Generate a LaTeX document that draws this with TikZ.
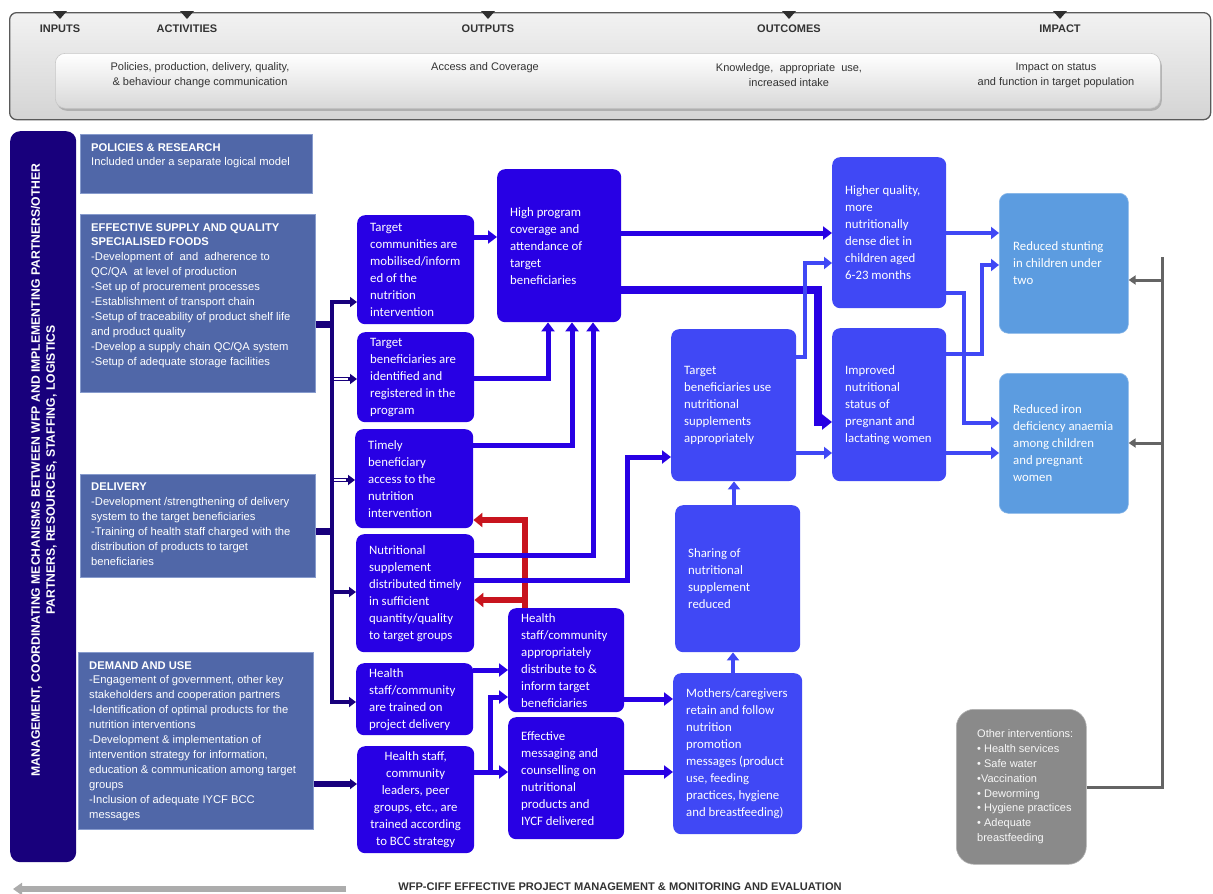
\documentclass[tikz,border=0pt]{standalone}
\usepackage{fontspec}
\setmainfont{Liberation Sans}
\newfontfamily\calibfont{Carlito}
\usetikzlibrary{arrows.meta,shadows}
\definecolor{navy}{RGB}{24,0,124}
\definecolor{leftblue}{RGB}{80,103,168}
\definecolor{leftedge}{RGB}{135,155,205}
\definecolor{strong}{RGB}{40,0,228}
\definecolor{mid}{RGB}{64,72,245}
\definecolor{impact}{RGB}{92,156,224}
\definecolor{othergray}{RGB}{138,138,138}
\definecolor{linegray}{RGB}{100,100,100}
\definecolor{redarrow}{RGB}{200,20,30}
\definecolor{hdrtext}{RGB}{51,51,51}
\definecolor{hdrtop}{RGB}{242,242,242}
\definecolor{hdrbot}{RGB}{212,212,212}
\definecolor{hdrinbot}{RGB}{216,216,216}
\definecolor{hdredge}{RGB}{90,90,90}
\begin{document}
\begin{tikzpicture}[x=1pt,y=-1pt,
  lbox/.style={fill=leftblue, draw=leftedge, line width=0.6pt, anchor=north west, inner sep=0pt},
  ltext/.style={anchor=north west, align=left, text=white, inner sep=0pt, font=\fontsize{11.2}{14.9}\selectfont},
  sbox/.style={fill=strong, rounded corners=8pt, anchor=north west, inner sep=0pt},
  mbox/.style={fill=mid, rounded corners=8pt, anchor=north west, inner sep=0pt},
  ibox/.style={fill=impact, draw=impact!75!white, line width=0.6pt, rounded corners=9pt, anchor=north west, inner sep=0pt},
  btext/.style={anchor=west, align=left, text=white, inner sep=0pt, font=\calibfont\fontsize{12.8}{17}\selectfont},
  htitle/.style={text=hdrtext, inner sep=0pt, font=\bfseries\fontsize{11}{13}\selectfont},
  hsub/.style={text=hdrtext, inner sep=0pt, align=center, font=\fontsize{11}{15}\selectfont},
  htri/.style={fill=hdrtext!90!black},
  sarr/.style={draw=strong, line width=5pt, -{Triangle[length=9pt,width=13pt]}},
  sthick/.style={draw=strong, line width=8pt, -{Triangle[length=10pt,width=15pt]}},
  marr/.style={draw=mid, line width=4pt, -{Triangle[length=8pt,width=12pt]}},
  narr/.style={draw=navy, line width=4pt, -{Triangle[length=7pt,width=10pt]}},
  nstub/.style={draw=navy, line width=7pt},
  rarr/.style={draw=redarrow, line width=6pt, -{Triangle[length=9pt,width=14pt]}},
  garr/.style={draw=linegray, line width=3pt, -{Triangle[length=7pt,width=9pt]}},
]
\fill[white] (0,0) rectangle (1213,894);
\useasboundingbox (0,0) rectangle (1213,894);

% ---------- header ----------
\node[draw=hdredge, line width=1.3pt, rounded corners=7pt, top color=hdrtop, bottom color=hdrbot,
      minimum width=1201pt, minimum height=107pt, anchor=north west, inner sep=0pt] (hdr) at (9,12) {};
\node[rounded corners=10pt, top color=white, bottom color=hdrinbot, draw=gray!45, line width=0.6pt,
      drop shadow={opacity=0.45, shadow xshift=1.5pt, shadow yshift=-2.5pt},
      minimum width=1105pt, minimum height=55pt, anchor=north west, inner sep=0pt] (hdrin) at (55,53) {};
\foreach \xx in {60,187,488,789,1060}{
  \fill[htri] (\xx-7,11) -- (\xx+7,11) -- (\xx,19) -- cycle;
}
\node[htitle] (hinp) at (60,29) {INPUTS};
\node[htitle] (hact) at (187,29) {ACTIVITIES};
\node[htitle] (hout) at (488,29) {OUTPUTS};
\node[htitle] (hoc) at (789,29) {OUTCOMES};
\node[htitle] (himp) at (1060,29) {IMPACT};
\node[hsub] (s1) at (200,75.5) {Policies, production, delivery, quality,\\ \& behaviour change communication};
\node[hsub] (s2) at (485,68) {Access and Coverage};
\node[hsub] (s3) at (789,75.5) {Knowledge,\ \ appropriate\ \ use,\\increased intake};
\node[hsub] (s4) at (1056,75.5) {Impact on status\\and function in target population};

% ---------- management bar ----------
\node[fill=navy, rounded corners=10pt, minimum width=66pt, minimum height=731pt, anchor=north west, inner sep=0pt] (mgmt) at (10,131) {};
\node[rotate=90, align=center, text=white, inner sep=0pt, font=\bfseries\fontsize{12.2}{15}\selectfont] (mgmtt) at (44,470)
  {MANAGEMENT, COORDINATING MECHANISMS BETWEEN WFP AND IMPLEMENTING PARTNERS/OTHER\\PARTNERS, RESOURCES, STAFFING, LOGISTICS};

% ---------- input boxes ----------
\node[lbox, minimum width=232pt, minimum height=59pt] (pol) at (80,134) {};
\node[ltext] (polt) at ([shift={(11pt,-9pt)}]pol.north west)
  {\textbf{POLICIES \& RESEARCH}\\Included under a separate logical model};
\node[lbox, minimum width=235pt, minimum height=178pt] (sup) at (80,214) {};
\node[ltext] (supt) at ([shift={(11pt,-9pt)}]sup.north west)
  {\textbf{EFFECTIVE SUPPLY AND QUALITY}\\\textbf{SPECIALISED FOODS}\\-Development of\ \ and\ \ adherence to\\QC/QA\ \ at level of production\\-Set up of procurement processes\\-Establishment of transport chain\\-Setup of traceability of product shelf life\\and product quality\\-Develop a supply chain QC/QA system\\-Setup of adequate storage facilities};
\node[lbox, minimum width=235pt, minimum height=103pt] (del) at (80,474) {};
\node[ltext] (delt) at ([shift={(11pt,-9pt)}]del.north west)
  {\textbf{DELIVERY}\\-Development /strengthening of delivery\\system to the target beneficiaries\\-Training of health staff charged with the\\distribution of products to target\\beneficiaries};
\node[lbox, minimum width=235pt, minimum height=177pt] (dem) at (78,652) {};
\node[ltext] (demt) at ([shift={(11pt,-9pt)}]dem.north west)
  {\textbf{DEMAND AND USE}\\-Engagement of government, other key\\stakeholders and cooperation partners\\-Identification of optimal products for the\\nutrition interventions\\-Development \& implementation of\\intervention strategy for information,\\education \& communication among target\\groups\\-Inclusion of adequate IYCF BCC\\messages};

% ---------- activity / output boxes ----------
\node[sbox, minimum width=117pt, minimum height=109pt] (tc) at (357,215) {};
\node[btext] (tct) at ([xshift=13pt]tc.west) {Target\\communities are\\mobilised/inform\\ed of the\\nutrition\\intervention};
\node[sbox, minimum width=117pt, minimum height=90pt] (tbi) at (357,332) {};
\node[btext] (tbit) at ([xshift=13pt]tbi.west) {Target\\beneficiaries are\\identified and\\registered in the\\program};
\node[sbox, minimum width=118pt, minimum height=99pt] (tim) at (355,429) {};
\node[btext] (timt) at ([xshift=13pt]tim.west) {Timely\\beneficiary\\access to the\\nutrition\\intervention};
\node[sbox, minimum width=118pt, minimum height=118pt] (sup2) at (356,534) {};
\node[btext] (sup2t) at ([xshift=13pt]sup2.west) {Nutritional\\supplement\\distributed timely\\in sufficient\\quantity/quality\\to target groups};
\node[sbox, minimum width=117pt, minimum height=72pt] (hst) at (356,663) {};
\node[btext] (hstt) at ([xshift=13pt]hst.west) {Health\\staff/community\\are trained on\\project delivery};
\node[sbox, minimum width=117pt, minimum height=107pt] (bcc) at (357,746) {};
\node[btext, anchor=center, align=center] (bcct) at (bcc.center) {Health staff,\\community\\leaders, peer\\groups, etc., are\\trained according\\to BCC strategy};
\node[sbox, minimum width=124pt, minimum height=153pt] (hp) at (497,169) {};
\node[btext] (hpt) at ([xshift=13pt]hp.west) {High program\\coverage and\\attendance of\\target\\beneficiaries};
\node[sbox, minimum width=116pt, minimum height=104pt] (hsa) at (508,608) {};
\node[btext] (hsat) at ([xshift=13pt]hsa.west) {Health\\staff/community\\appropriately\\distribute to \&\\inform target\\beneficiaries};
\node[sbox, minimum width=116pt, minimum height=122pt] (em) at (508,717) {};
\node[btext] (emt) at ([xshift=13pt]em.west) {Effective\\messaging and\\counselling on\\nutritional\\products and\\IYCF delivered};

% ---------- outcome boxes ----------
\node[mbox, minimum width=125pt, minimum height=152pt] (tu) at (671,329) {};
\node[btext] (tut) at ([xshift=13pt]tu.west) {Target\\beneficiaries use\\nutritional\\supplements\\appropriately};
\node[mbox, minimum width=125pt, minimum height=147pt] (sh) at (675,505) {};
\node[btext] (sht) at ([xshift=13pt]sh.west) {Sharing of\\nutritional\\supplement\\reduced};
\node[mbox, minimum width=129pt, minimum height=161pt] (mo) at (673,673) {};
\node[btext] (mot) at ([xshift=13pt]mo.west) {Mothers/caregivers\\retain and follow\\nutrition\\promotion\\messages (product\\use, feeding\\practices, hygiene\\and breastfeeding)};
\node[mbox, minimum width=114pt, minimum height=151pt] (hq) at (832,157) {};
\node[btext] (hqt) at ([xshift=13pt]hq.west) {Higher quality,\\more\\nutritionally\\dense diet in\\children aged\\6-23 months};
\node[mbox, minimum width=114pt, minimum height=153pt] (imp) at (832,328) {};
\node[btext] (impt) at ([xshift=13pt]imp.west) {Improved\\nutritional\\status of\\pregnant and\\lactating women};

% ---------- impact boxes ----------
\node[ibox, minimum width=129pt, minimum height=140pt] (stu) at (999,193) {};
\node[btext] (stut) at ([xshift=14pt]stu.west) {Reduced stunting\\in children under\\two};
\node[ibox, minimum width=129pt, minimum height=140pt] (iron) at (999,373) {};
\node[btext] (iront) at ([xshift=14pt]iron.west) {Reduced iron\\deficiency anaemia\\among children\\and pregnant\\women};

\node[fill=othergray, draw=gray!60, line width=0.6pt, rounded corners=18pt, minimum width=130pt, minimum height=155pt, anchor=north west, inner sep=0pt] (oth) at (956,709) {};
\node[anchor=west, align=left, text=white!94!gray, inner sep=0pt, font=\fontsize{11}{14.8}\selectfont] (otht) at ([xshift=21pt]oth.west)
  {Other interventions:\\\textbullet\ Health services\\\textbullet\ Safe water\\\textbullet Vaccination\\\textbullet\ Deworming\\\textbullet\ Hygiene practices\\\textbullet\ Adequate\\breastfeeding};

% ---------- red connectors ----------
\draw[rarr] (hsa.north -| 525,0) -- (525,520) -- (tim.east |- 0,520);
\draw[rarr] (hsa.north -| 525,0) -- (525,600) -- (sup2.east |- 0,600);

% ---------- navy connectors ----------
\draw[nstub] (sup.east |- 0,324) -- (334,324);
\draw[nstub] (del.east |- 0,531) -- (334,531);
\draw[narr] (332,702) -- (332,302) -- (tc.west |- 0,302);
\draw[narr] (332,302) -- (332,702) -- (hst.west |- 0,702);
\draw[narr] (332,379) -- (tbi.west |- 0,379);
\draw[narr] (332,480) -- (tim.west |- 0,480);
\draw[narr] (332,592) -- (sup2.west |- 0,592);
\draw[white, line width=1.2pt] (334,379) -- (348,379);
\draw[white, line width=1.2pt] (334,480) -- (346,480);
\draw[narr, line width=6pt] (dem.east |- 0,784) -- (bcc.west |- 0,784);

% ---------- strong connectors ----------
\draw[sarr] (tc.east |- 0,237) -- (hp.west |- 0,237);
\draw[sarr] (tbi.east |- 0,378) -- (548,378) -- (hp.south -| 548,0);
\draw[sarr] (tim.east |- 0,445) -- (572,445) -- (hp.south -| 572,0);
\draw[sarr] (sup2.east |- 0,555) -- (593,555) -- (hp.south -| 593,0);
\draw[sarr] (sup2.east |- 0,580) -- (627,580) -- (627,457) -- (tu.west |- 0,457);
\draw[sarr] (hp.east |- 0,233) -- (hq.west |- 0,233);
\draw[sthick] (hp.east |- 0,290) -- (818,290) -- (818,422) -- (imp.west |- 0,422);
\draw[sarr] (hst.east |- 0,670) -- (hsa.west |- 0,670);
\draw[sarr] (bcc.east |- 0,772) -- (em.west |- 0,772);
\draw[sarr] (bcc.east |- 0,772) -- (490,772) -- (490,697) -- (hsa.west |- 0,697);
\draw[sarr] (hsa.east |- 0,699) -- (mo.west |- 0,699);
\draw[sarr] (em.east |- 0,772) -- (mo.west |- 0,772);

% ---------- mid connectors ----------
\draw[marr] (mo.north -| 733,0) -- (sh.south -| 733,0);
\draw[marr] (sh.north -| 734,0) -- (tu.south -| 734,0);
\draw[marr] (tu.east |- 0,357) -- (805,357) -- (805,263) -- (hq.west |- 0,263);
\draw[marr] (tu.east |- 0,453) -- (imp.west |- 0,453);
\draw[marr] (hq.east |- 0,233) -- (stu.west |- 0,233);
\draw[marr] (hq.east |- 0,293) -- (964,293) -- (964,423) -- (iron.west |- 0,423);
\draw[marr] (imp.east |- 0,354) -- (982,354) -- (982,265) -- (stu.west |- 0,265);
\draw[marr] (imp.east |- 0,453) -- (iron.west |- 0,453);

% ---------- gray connectors ----------
\draw[draw=linegray, line width=3pt] (oth.east |- 0,787) -- (1162,787) -- (1162,257);
\draw[garr] (1162,280) -- (stu.east |- 0,280);
\draw[garr] (1162,443) -- (iron.east |- 0,443);

% ---------- bottom ----------
\coordinate (barR) at (346,889);
\coordinate (barL) at (13,889);
\draw[draw=gray!65, line width=6pt, -{Triangle[length=9pt,width=12pt]}] (barR) -- (barL);
\node[text=hdrtext, inner sep=0pt, font=\bfseries\fontsize{11.1}{12}\selectfont] (foot) at (620,887)
  {WFP-CIFF EFFECTIVE PROJECT MANAGEMENT \& MONITORING AND EVALUATION};
\end{tikzpicture}
\end{document}
